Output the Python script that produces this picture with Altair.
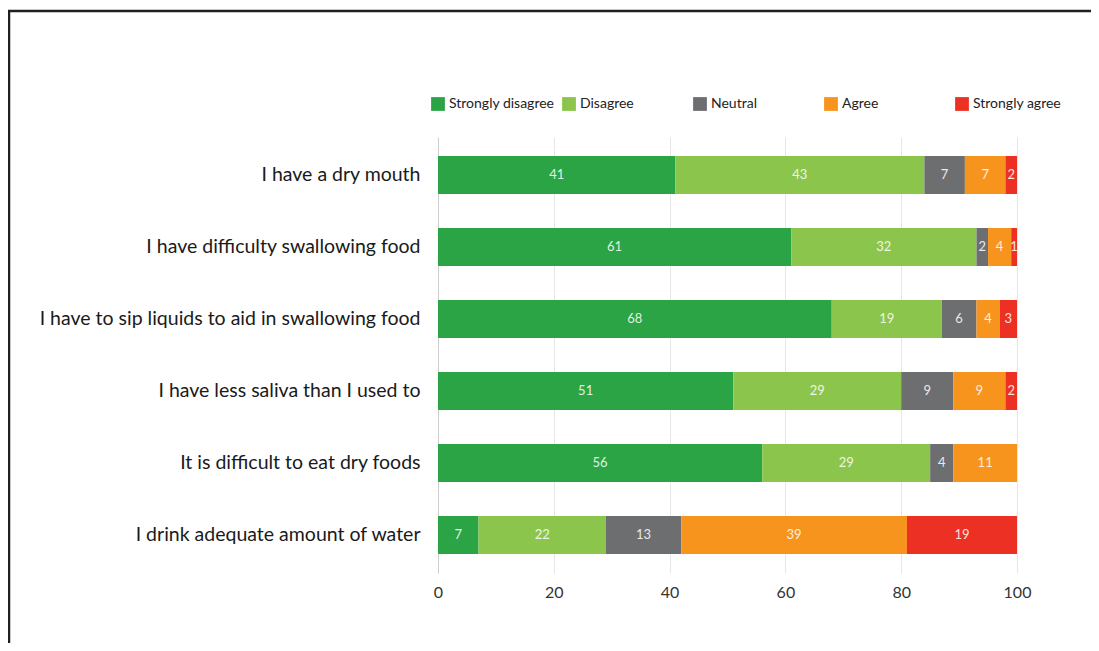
import altair as alt
import pandas as pd

statements = [
    "I have a dry mouth",
    "I have difficulty swallowing food",
    "I have to sip liquids to aid in swallowing food",
    "I have less saliva than I used to",
    "It is difficult to eat dry foods",
    "I drink  adequate amount of water",
]
categories = ["Strongly disagree", "Disagree", "Neutral", "Agree", "Strongly agree"]
colors = ["#2aa445", "#8cc54b", "#6d6e70", "#f7941d", "#ec3124"]

strongly_disagree = [41, 61, 68, 51, 56, 7]
disagree = [43, 32, 19, 29, 29, 22]
neutral = [7, 2, 6, 9, 4, 13]
agree = [7, 4, 4, 9, 11, 39]
strongly_agree = [2, 1, 3, 2, 0, 19]

series = [strongly_disagree, disagree, neutral, agree, strongly_agree]
x_ticks = [0, 20, 40, 60, 80, 100]

rows = []
for ci, (cat, vals) in enumerate(zip(categories, series)):
    for si, (st, v) in enumerate(zip(statements, vals)):
        if v > 0:
            rows.append({"statement": st, "category": cat, "order": ci, "value": v})
df = pd.DataFrame(rows)

base = alt.Chart(df).transform_stack(
    stack="value", groupby=["statement"], as_=["x0", "x1"],
    sort=[alt.SortField("order", order="ascending")],
).transform_calculate(mid="(datum.x0 + datum.x1) / 2")

y_enc = alt.Y("statement:N", sort=statements, title=None,
              scale=alt.Scale(paddingInner=0.472, paddingOuter=0.264),
              axis=alt.Axis(labelFont="Lato", labelFontSize=19.5, labelColor="#1a1a1a",
                            labelPadding=18, ticks=False, domain=True,
                            domainColor="#cfcfcf", labelLimit=500))

bars = base.mark_bar().encode(
    x=alt.X("x0:Q", title=None,
            scale=alt.Scale(domain=[0, 100], nice=False),
            axis=alt.Axis(values=x_ticks, labelFont="Lato", labelFontSize=16,
                          labelColor="#333333", grid=True, gridColor="#e6e6e6",
                          domain=False, ticks=False, labelPadding=11,
                          labelFlush=False)),
    x2="x1:Q",
    y=y_enc,
    color=alt.Color("category:N", sort=categories,
                    scale=alt.Scale(domain=categories, range=colors),
                    legend=alt.Legend(title=None, orient="none", legendX=-7, legendY=-40,
                                      direction="horizontal", columns=5, gridAlign="all",
                                      symbolType="square", symbolSize=190,
                                      symbolStrokeWidth=0, labelFont="Lato",
                                      labelFontSize=14, labelColor="#222222",
                                      columnPadding=7, labelLimit=200)),
)

texts = base.mark_text(font="Lato", fontSize=13, color="white", opacity=0.85).encode(
    x=alt.X("mid:Q"),
    y=alt.Y("statement:N", sort=statements),
    text=alt.Text("value:Q"),
)

border_top = alt.Chart(pd.DataFrame({"a": [0]})).mark_rule(
    color="#231f20", strokeWidth=2.5, clip=False
).encode(x=alt.value(-430), x2=alt.value(680), y=alt.value(-126))
border_left = alt.Chart(pd.DataFrame({"a": [0]})).mark_rule(
    color="#231f20", strokeWidth=2.5, clip=False
).encode(x=alt.value(-429), y=alt.value(-127), y2=alt.value(520))

chart = alt.layer(bars, texts, border_top, border_left).properties(
    width=579, height=436,
    autosize=alt.AutoSizeParams(type="none"),
    padding={"left": 430, "top": 129, "right": 74, "bottom": 70},
).configure_view(stroke=None)

chart.save("out.html", embed_options={"renderer": "svg", "actions": False})
